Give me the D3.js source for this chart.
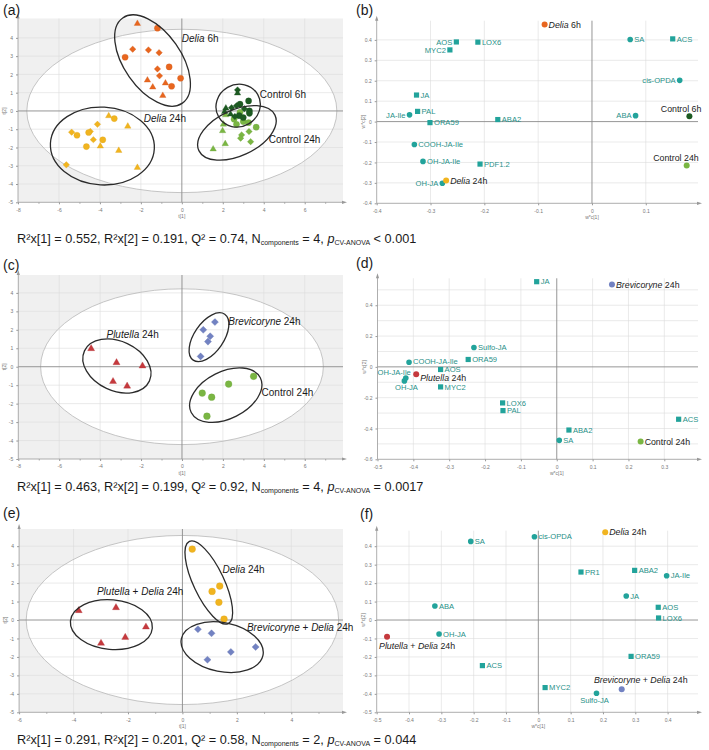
<!DOCTYPE html>
<html><head><meta charset="utf-8">
<script src="https://cdn.jsdelivr.net/npm/d3@7"></script>
<style>body{margin:0;background:#fff;} text{font-family:"Liberation Sans",Arial,sans-serif;}</style>
</head><body><script>
// ---------------- DATA ----------------
// Panel (a) scores [t1, t2, shape]  c=circle t=triangle d=diamond
const aDelia6h = [[-2.17,4.78,'t'],[-1.19,4.53,'c'],[-2.40,3.38,'d'],[-1.63,3.34,'d'],[-1.11,3.19,'d'],[-2.77,2.94,'c'],[-0.62,2.41,'c'],[-1.19,2.30,'d'],[-1.09,1.92,'d'],[-0.06,1.79,'c'],[-1.68,1.68,'t'],[-0.80,1.52,'t'],[-0.50,1.35,'c'],[-1.42,1.30,'t'],[-0.93,0.84,'t']];
const aDelia24h = [[-3.57,-0.27,'t'],[-3.30,-0.42,'c'],[-2.64,-0.84,'t'],[-4.12,-0.73,'d'],[-5.38,-1.16,'d'],[-5.12,-1.33,'c'],[-4.47,-1.12,'d'],[-4.55,-1.18,'c'],[-4.32,-1.57,'d'],[-3.86,-1.58,'c'],[-4.66,-1.95,'c'],[-3.98,-1.93,'t'],[-3.08,-2.17,'t'],[-5.64,-2.95,'d'],[-2.17,-3.10,'t']];
const aControl24h = [[3.00,-0.58,'c'],[2.67,-0.73,'c'],[3.26,-0.64,'c'],[3.63,-0.89,'c'],[2.55,-0.45,'c'],[2.14,-0.22,'t'],[2.03,-0.73,'t'],[1.99,-1.09,'t'],[3.28,-1.13,'d'],[2.92,-1.31,'d'],[2.87,-1.49,'d'],[3.36,-1.68,'d'],[2.12,-1.80,'t'],[1.53,-2.09,'t'],[2.84,-0.07,'c']];
const aControl6h = [[2.72,1.15,'d'],[2.72,0.97,'t'],[3.26,0.55,'c'],[2.84,0.37,'c'],[2.67,0.29,'d'],[2.43,0.18,'d'],[2.15,0.15,'t'],[3.30,0.00,'c'],[3.30,-0.13,'c'],[2.38,-0.18,'t'],[2.80,-0.26,'c'],[3.00,-0.36,'c'],[2.59,-0.31,'d'],[2.09,-0.04,'t'],[3.05,0.12,'d']];
// Panel (c) scores
const cPlutella24h = [[-4.44,0.98,'t'],[-3.20,0.22,'t'],[-1.93,0.04,'t'],[-3.37,-0.80,'t'],[-2.68,-1.05,'t']];
const cBrevicoryne24h = [[1.61,2.42,'d'],[1.04,2.00,'d'],[1.38,1.65,'d'],[1.27,1.36,'d'],[0.91,0.56,'d']];
const cControl24h = [[3.50,-0.52,'c'],[2.28,-0.94,'c'],[0.99,-1.43,'c'],[1.45,-1.65,'c'],[1.22,-2.68,'c']];
// Panel (e) scores
const ePlutellaDelia24h = [[-3.81,0.51,'t'],[-2.44,0.67,'t'],[-1.34,-0.38,'t'],[-2.10,-0.94,'t'],[-2.99,-1.26,'t']];
const eDelia24h = [[0.36,3.84,'c'],[1.09,1.55,'c'],[1.37,1.84,'c'],[1.34,0.96,'c'],[1.53,0.05,'c']];
const eBrevicoryneDelia24h = [[0.57,-0.50,'d'],[1.07,-0.72,'d'],[2.69,-1.46,'d'],[1.78,-1.73,'d'],[0.92,-2.15,'d']];

// Group ellipses [name, cx, cy, semi-axis a, semi-axis b (t[1] units), angle deg]
const aEllipses = [['Delia 6h',-1.43,2.76,2.54,1.39,55],['Delia 24h',-3.88,-1.92,2.54,1.90,3],['Control 6h',2.75,0.29,1.10,1.03,-30],['Control 24h',2.69,-1.20,2.05,1.12,-25]];
const cEllipses = [['Plutella 24h',-3.18,0.04,1.75,1.21,25],['Brevicoryne 24h',1.32,1.60,1.36,0.72,-55.5],['Control 24h',2.14,-1.54,1.89,1.15,-26.7]];
const eEllipses = [['Plutella + Delia 24h',-2.61,-0.25,1.51,0.91,5],['Delia 24h',0.97,2.03,1.67,0.56,64.7],['Brevicoryne + Delia 24h',1.46,-1.47,1.53,0.90,11.5]];
// Hotelling T2 ellipses [rx, ry]
const hotelling = {a:[7.57,4.47], c:[6.91,4.22], e:[5.74,4.58]};
// Score group labels [text, t1, t2]
const aLabels = [['Delia 6h',0.0,3.78],['Delia 24h',-1.86,-0.60],['Control 6h',3.81,0.71],['Control 24h',4.24,-1.75]];
const cLabels = [['Plutella 24h',-3.69,1.55],['Brevicoryne 24h',2.26,2.26],['Control 24h',3.89,-1.61]];
const eLabels = [['Delia 24h',1.47,2.54],['Plutella + Delia 24h',-3.14,1.35],['Brevicoryne + Delia 24h',2.37,-0.57]];

// Loadings [name, w*c[1], w*c[2], kind]  c=metabolite (circle) s=gene (square)
const bLoadings = [['SA',0.071,0.402,'c'],['ACS',0.150,0.405,'s'],['AOS',-0.252,0.390,'s'],['LOX6',-0.212,0.389,'s'],['MYC2',-0.264,0.351,'s'],['cis-OPDA',0.163,0.202,'c'],['JA',-0.326,0.130,'s'],['PAL',-0.324,0.050,'s'],['JA-Ile',-0.339,0.033,'c'],['ORA59',-0.301,-0.005,'s'],['ABA2',-0.175,0.010,'s'],['ABA',0.081,0.029,'c'],['COOH-JA-Ile',-0.330,-0.112,'c'],['OH-JA-Ile',-0.314,-0.195,'c'],['PDF1.2',-0.208,-0.208,'s'],['OH-JA',-0.278,-0.302,'c']];
const bGroups = [['Delia 6h',-0.088,0.475,'delia6'],['Control 6h',0.181,0.026,'ctl6'],['Control 24h',0.176,-0.215,'ctl24'],['Delia 24h',-0.271,-0.288,'delia24']];
const dLoadings = [['JA',-0.056,0.553,'s'],['Sulfo-JA',-0.231,0.126,'c'],['COOH-JA-Ile',-0.412,0.030,'c'],['ORA59',-0.247,0.048,'s'],['AOS',-0.324,-0.017,'s'],['OH-JA-Ile',-0.421,-0.072,'c'],['OH-JA',-0.425,-0.091,'c'],['MYC2',-0.324,-0.130,'s'],['LOX6',-0.151,-0.234,'s'],['PAL',-0.150,-0.284,'s'],['ACS',0.340,-0.340,'s'],['ABA2',0.034,-0.410,'s'],['SA',0.007,-0.477,'c']];
const dGroups = [['Brevicoryne 24h',0.154,0.535,'brev'],['Plutella 24h',-0.392,-0.048,'plut'],['Control 24h',0.234,-0.485,'ctl24']];
const fLoadings = [['SA',-0.209,0.426,'c'],['cis-OPDA',-0.012,0.451,'c'],['PR1',0.132,0.260,'s'],['ABA2',0.298,0.269,'s'],['JA-Ile',0.397,0.240,'c'],['JA',0.272,0.130,'c'],['ABA',-0.320,0.076,'c'],['AOS',0.371,0.069,'s'],['LOX6',0.372,0.011,'s'],['OH-JA',-0.307,-0.076,'c'],['ORA59',0.287,-0.197,'s'],['ACS',-0.173,-0.247,'s'],['MYC2',0.021,-0.366,'s'],['Sulfo-JA',0.180,-0.397,'c']];
const fGroups = [['Delia 24h',0.207,0.475,'delia24'],['Plutella + Delia 24h',-0.468,-0.090,'plut'],['Brevicoryne + Delia 24h',0.258,-0.375,'brev']];

// Model statistics captions
const capR2x1 = ['0.552','0.463','0.291'];
const capR2x2 = ['0.191','0.199','0.201'];
const capQ2 = ['0.74','0.92','0.58'];
const capNcomp = ['4','4','2'];
const capP = ['< 0.001','= 0.0017','= 0.044'];

// ---------------- STYLE ----------------
const COL = {delia6:'#e8661f', delia24:'#f1b41f', ctl6:'#1d5a22', ctl24:'#7ab643', plut:'#c5393d', brev:'#7282c2', teal:'#22a39b', tealText:'#1f9088'};
// label placement for loadings: [dx, dy(center), anchor]
const PLACE = {r:[4,0,'start'], ru:[4,-1.3,'start'], rd:[4,3.8,'start'], l:[-4,0,'end'], ul:[12,-7.5,'end'], ul2:[5,-6,'end'], b:[2,6.5,'middle'], bl:[-8,9,'start'], ua:[19,-9,'middle'], b2:[-2,7,'middle']};
const bPlace = {'AOS':'l','MYC2':'l','cis-OPDA':'l','JA-Ile':'l','ABA':'l','OH-JA':'l','Control 6h':'ul','Control 24h':'ul'};
const dPlace = {'OH-JA-Ile':'ul2','OH-JA':'b','Plutella 24h':'rd','COOH-JA-Ile':'ru'};
const fPlace = {'Plutella + Delia 24h':'bl','Brevicoryne + Delia 24h':'ua','Sulfo-JA':'b2'};

const svg = d3.select('body').append('svg').attr('width',709).attr('height',750);
const fmtDash = s => s.replace('\u2212','-');

function richText(sel, str){
  str.split(/(Delia|Plutella|Brevicoryne)/).filter(s=>s).forEach(p=>{
    sel.append('tspan').attr('font-style', /^(Delia|Plutella|Brevicoryne)$/.test(p)?'italic':null).text(p);
  });
}
function symPath(kind, size){
  if(kind==='c') return d3.symbol().type(d3.symbolCircle).size(size)();
  if(kind==='t') return d3.symbol().type(d3.symbolTriangle).size(size*0.6)();
  if(kind==='d') return d3.symbol().type(d3.symbolSquare).size(size*0.7)();
  return d3.symbol().type(d3.symbolSquare).size(size)();
}

function frame(g, x, y, cfg){
  const [L,R]=x.range(), [B,T]=y.range();
  g.selectAll(null).data(cfg.xgrid).join('line').attr('x1',d=>x(d)).attr('x2',d=>x(d)).attr('y1',T).attr('y2',B).attr('stroke','#dcdcdc').attr('stroke-width',0.6);
  g.selectAll(null).data(cfg.ygrid).join('line').attr('y1',d=>y(d)).attr('y2',d=>y(d)).attr('x1',L).attr('x2',R).attr('stroke','#dcdcdc').attr('stroke-width',0.6);
  if(cfg.hot){
    g.append('ellipse').attr('cx',x(0)).attr('cy',y(0)).attr('rx',x(cfg.hot[0])-x(0)).attr('ry',y(0)-y(cfg.hot[1])).attr('fill','none').attr('stroke','#b8b8b8').attr('stroke-width',0.8);
  }
  g.append('line').attr('x1',x(0)).attr('x2',x(0)).attr('y1',T).attr('y2',B).attr('stroke','#8a8a8a').attr('stroke-width',0.9);
  g.append('line').attr('y1',y(0)).attr('y2',y(0)).attr('x1',L).attr('x2',R).attr('stroke','#8a8a8a').attr('stroke-width',0.9);
  const xa = d3.axisBottom(x).tickValues(cfg.xticks).tickSize(2).tickFormat(cfg.fmt);
  const ya = d3.axisLeft(y).tickValues(cfg.yticks).tickSize(2).tickFormat(cfg.fmt);
  const gx = g.append('g').attr('transform',`translate(0,${B})`).call(xa);
  const gy = g.append('g').attr('transform',`translate(${L},0)`).call(ya);
  [gx,gy].forEach(a=>{a.select('.domain').remove(); a.selectAll('line').attr('stroke','#999'); a.selectAll('text').attr('font-size',5).attr('fill','#777').attr('font-family','Liberation Sans, Arial');});
  gx.selectAll('text').attr('dy','0.85em');
  if(cfg.xminor){
    const xm=d3.axisBottom(x).tickValues(cfg.xminor).tickSize(1.5).tickFormat('');
    const m=g.append('g').attr('transform',`translate(0,${B})`).call(xm); m.select('.domain').remove(); m.selectAll('line').attr('stroke','#aaa');
  }
  g.append('line').attr('x1',L).attr('x2',R).attr('y1',B).attr('y2',B).attr('stroke','#999').attr('stroke-width',0.8);
  g.append('line').attr('x1',L).attr('x2',L).attr('y1',B).attr('y2',T-2).attr('stroke','#999').attr('stroke-width',0.8);
  g.append('path').attr('d',`M${R+4},${B} L${R-1},${B-1.6} L${R-1},${B+1.6}Z`).attr('fill','#999');
  g.append('path').attr('d',`M${L},${T-5} L${L-1.6},${T} L${L+1.6},${T}Z`).attr('fill','#999');
  g.append('text').attr('x',x(0)).attr('y',B+16).attr('text-anchor','middle').attr('font-size',5).attr('fill','#777').text(cfg.xtitle);
  g.append('text').attr('transform',`translate(${L-12},${y(0)}) rotate(-90)`).attr('text-anchor','middle').attr('font-size',5).attr('fill','#777').text(cfg.ytitle);
}

function scoresPanel(cfg){
  const x=d3.scaleLinear().domain(cfg.xd).range(cfg.xr);
  const y=d3.scaleLinear().domain(cfg.yd).range(cfg.yr);
  const g=svg.append('g');
  const [L,R]=cfg.xr, [B,T]=cfg.yr;
  g.append('rect').attr('x',L).attr('y',T).attr('width',R-L).attr('height',B-T).attr('fill','#f0f0f0');
  g.append('ellipse').attr('cx',x(0)).attr('cy',y(0)).attr('rx',x(cfg.hot[0])-x(0)).attr('ry',y(0)-y(cfg.hot[1])).attr('fill','#fff');
  const ints = d3.range(Math.ceil(cfg.xd[0]), Math.floor(cfg.xd[1])+1);
  frame(g,x,y,{xgrid:cfg.xticks.filter(v=>v!==0&&v!==cfg.xd[0]), ygrid:d3.range(-4,5).filter(v=>v!==0), hot:cfg.hot,
    xticks:cfg.xticks, yticks:d3.range(-5,5), xminor:ints.filter(v=>!cfg.xticks.includes(v)), fmt:v=>fmtDash(d3.format('d')(v)), xtitle:'t[1]', ytitle:'t[2]'});
  const pxu = x(1)-x(0);
  cfg.groups.forEach(([data,col])=>{
    g.selectAll(null).data(data).join('path')
      .attr('d',d=>symPath(d[2],cfg.msize))
      .attr('transform',d=>`translate(${x(d[0])},${y(d[1])})${d[2]==='d'?' rotate(45)':''}`)
      .attr('fill',col).attr('stroke',d3.color(col).darker(0.3)).attr('stroke-width',0.3);
  });
  g.selectAll(null).data(cfg.ellipses).join('ellipse')
    .attr('cx',d=>x(d[1])).attr('cy',d=>y(d[2])).attr('rx',d=>d[3]*pxu).attr('ry',d=>d[4]*pxu)
    .attr('transform',d=>`rotate(${d[5]} ${x(d[1])} ${y(d[2])})`)
    .attr('fill','none').attr('stroke','#2b2b2b').attr('stroke-width',1.3);
  cfg.labels.forEach(([t,lx,ly])=>{
    const tx=g.append('text').attr('x',x(lx)).attr('y',y(ly)).attr('font-size',10).attr('fill','#1a1a1a');
    richText(tx,t);
  });
}

function loadingsPanel(cfg){
  const x=d3.scaleLinear().domain(cfg.xd).range(cfg.xr);
  const y=d3.scaleLinear().domain(cfg.yd).range(cfg.yr);
  const g=svg.append('g');
  const fmt=v=>Math.abs(v)<1e-9?'0':fmtDash(d3.format('.1f')(v));
  frame(g,x,y,{xgrid:cfg.xticks.filter(v=>Math.abs(v)>1e-9&&Math.abs(v-cfg.xd[0])>1e-9), ygrid:cfg.ygrid.filter(v=>Math.abs(v)>1e-9&&Math.abs(v-cfg.yd[0])>1e-9),
    xticks:cfg.xticks, yticks:cfg.yticks, fmt:fmt, xtitle:'w*c[1]', ytitle:'w*c[2]'});
  const lab=(d,col,size,rich)=>{
    const p=PLACE[cfg.place[d[0]]||'r'];
    const t=g.append('text').attr('x',x(d[1])+p[0]).attr('y',y(d[2])+p[1]).attr('dy','0.35em').attr('text-anchor',p[2]).attr('font-size',size).attr('fill',col);
    if(rich) richText(t,d[0]); else t.text(d[0]);
  };
  g.selectAll(null).data(cfg.loadings).join('path')
    .attr('d',d=>d[3]==='c'?d3.symbol().type(d3.symbolCircle).size(25)():d3.symbol().type(d3.symbolSquare).size(27)())
    .attr('transform',d=>`translate(${x(d[1])},${y(d[2])})`).attr('fill',COL.teal);
  cfg.loadings.forEach(d=>lab(d,COL.tealText,7.6,false));
  g.selectAll(null).data(cfg.groups).join('circle')
    .attr('cx',d=>x(d[1])).attr('cy',d=>y(d[2])).attr('r',3).attr('fill',d=>COL[d[3]]);
  cfg.groups.forEach(d=>lab(d,'#222',8.8,true));
}

function caption(i, yb){
  const t=svg.append('text').attr('x',17).attr('y',yb).attr('font-size',12.7).attr('fill','#1a1a1a');
  t.append('tspan').text(`R\u00B2x[1] = ${capR2x1[i]}, R\u00B2x[2] = ${capR2x2[i]}, Q\u00B2 = ${capQ2[i]}, N`);
  t.append('tspan').attr('font-size',7).attr('dy',2).text('components');
  t.append('tspan').attr('dy',-2).text(` = ${capNcomp[i]}, `);
  t.append('tspan').attr('font-style','italic').text('p');
  t.append('tspan').attr('font-size',7).attr('dy',2).text('CV-ANOVA');
  t.append('tspan').attr('dy',-2).text(` ${capP[i]}`);
}
function panelLabel(txt,x,y){ svg.append('text').attr('x',x).attr('y',y).attr('font-size',14).attr('fill','#1a1a1a').text(txt); }

// ---------------- DRAW ----------------
scoresPanel({xd:[-8,7.87], xr:[18,343], yd:[-5,5.06], yr:[202.3,18.5], hot:hotelling.a, xticks:[-8,-6,-4,-2,0,2,4,6], msize:30,
  groups:[[aDelia6h,COL.delia6],[aDelia24h,COL.delia24],[aControl24h,COL.ctl24],[aControl6h,COL.ctl6]], ellipses:aEllipses, labels:aLabels});
scoresPanel({xd:[-8,7.87], xr:[18.3,343], yd:[-5,4.97], yr:[459,275], hot:hotelling.c, xticks:[-8,-6,-4,-2,0,2,4,6], msize:36,
  groups:[[cPlutella24h,COL.plut],[cBrevicoryne24h,COL.brev],[cControl24h,COL.ctl24]], ellipses:cEllipses, labels:cLabels});
scoresPanel({xd:[-6,5.9], xr:[19.1,343], yd:[-5,4.93], yr:[712.3,529], hot:hotelling.e, xticks:[-6,-4,-2,0,2,4], msize:36,
  groups:[[ePlutellaDelia24h,COL.plut],[eDelia24h,COL.delia24],[eBrevicoryneDelia24h,COL.brev]], ellipses:eEllipses, labels:eLabels});

loadingsPanel({xd:[-0.4,0.197], xr:[376.7,698], yd:[-0.4,0.494], yr:[203.3,20.7],
  xticks:d3.range(-4,2).map(v=>v/10), yticks:d3.range(-4,5).map(v=>v/10), ygrid:d3.range(-4,5).map(v=>v/10),
  loadings:bLoadings, groups:bGroups, place:bPlace});
loadingsPanel({xd:[-0.5,0.394], xr:[377.5,698], yd:[-0.6,0.575], yr:[459.3,278.3],
  xticks:d3.range(-5,4).map(v=>v/10), yticks:d3.range(-6,5,2).map(v=>v/10), ygrid:d3.range(-6,6).map(v=>v/10),
  loadings:dLoadings, groups:dGroups, place:dPlace});
loadingsPanel({xd:[-0.5,0.494], xr:[376.7,698], yd:[-0.5,0.484], yr:[712.3,530.7],
  xticks:d3.range(-5,5).map(v=>v/10), yticks:d3.range(-5,5).map(v=>v/10), ygrid:d3.range(-5,5).map(v=>v/10),
  loadings:fLoadings, groups:fGroups, place:fPlace});

caption(0,243); caption(1,491); caption(2,744);
panelLabel('(a)',3,15); panelLabel('(b)',356,15);
panelLabel('(c)',3,270); panelLabel('(d)',356,268);
panelLabel('(e)',3,518); panelLabel('(f)',360,519);
</script></body></html>
